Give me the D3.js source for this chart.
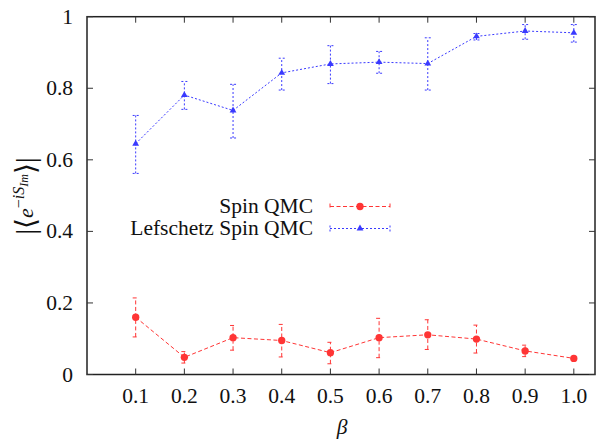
<!DOCTYPE html>
<html>
<head>
<meta charset="utf-8">
<script src="https://cdn.jsdelivr.net/npm/d3@7"></script>
<style>
  body { margin: 0; background: #fff; }
  text { font-family: "Liberation Serif", "DejaVu Serif", serif; fill: #111; }
</style>
</head>
<body>
<script>
  var betas = [0.1, 0.2, 0.3, 0.4, 0.5, 0.6, 0.7, 0.8, 0.9, 1.0];
  var xTickLabels = ["0.1", "0.2", "0.3", "0.4", "0.5", "0.6", "0.7", "0.8", "0.9", "1.0"];
  var yTicks = [0, 0.2, 0.4, 0.6, 0.8, 1];
  var yTickLabels = ["0", "0.2", "0.4", "0.6", "0.8", "1"];

  // Spin QMC
  var spinVal  = [0.160, 0.048, 0.103, 0.095, 0.061, 0.103, 0.111, 0.099, 0.066, 0.045];
  var spinLow  = [0.105, 0.032, 0.068, 0.049, 0.030, 0.047, 0.070, 0.060, 0.050, 0.043];
  var spinHigh = [0.214, 0.064, 0.137, 0.140, 0.090, 0.157, 0.153, 0.138, 0.082, 0.047];

  // Lefschetz Spin QMC
  var lefVal  = [0.645, 0.781, 0.738, 0.843, 0.868, 0.873, 0.869, 0.945, 0.960, 0.955];
  var lefLow  = [0.562, 0.741, 0.661, 0.795, 0.813, 0.842, 0.795, 0.935, 0.937, 0.929];
  var lefHigh = [0.724, 0.819, 0.811, 0.884, 0.919, 0.903, 0.941, 0.953, 0.978, 0.978];

  var width = 596, height = 443;
  var padLeft = 87, padRight = 595, padTop = 16.7, padBottom = 374.5;
  var fontSize = "21.5px";

  var svg = d3.select("body").append("svg")
    .attr("width", width)
    .attr("height", height);

  var xScale = d3.scaleLinear().domain([0, 1.0435]).range([padLeft, padRight]);
  var yScale = d3.scaleLinear().domain([0, 1]).range([padBottom, padTop]);

  // frame
  svg.append("rect")
    .attr("x", padLeft).attr("y", padTop)
    .attr("width", padRight - padLeft).attr("height", padBottom - padTop)
    .attr("fill", "none").attr("stroke", "#222").attr("stroke-width", 1.5);

  // x ticks (bottom and top, inward)
  betas.forEach(function(b, i) {
    var x = xScale(b);
    svg.append("line").attr("x1", x).attr("x2", x).attr("y1", padBottom).attr("y2", padBottom - 6)
      .attr("stroke", "#333");
    svg.append("line").attr("x1", x).attr("x2", x).attr("y1", padTop).attr("y2", padTop + 6)
      .attr("stroke", "#333");
    svg.append("text")
      .attr("x", x).attr("y", 403)
      .attr("text-anchor", "middle")
      .style("font-size", fontSize)
      .text(xTickLabels[i]);
  });

  // y ticks (left and right, inward)
  yTicks.forEach(function(t, i) {
    var y = yScale(t);
    svg.append("line").attr("x1", padLeft).attr("x2", padLeft + 6).attr("y1", y).attr("y2", y)
      .attr("stroke", "#333");
    svg.append("line").attr("x1", padRight).attr("x2", padRight - 6).attr("y1", y).attr("y2", y)
      .attr("stroke", "#333");
    svg.append("text")
      .attr("x", 73).attr("y", y + 7)
      .attr("text-anchor", "end")
      .style("font-size", fontSize)
      .text(yTickLabels[i]);
  });

  // axis titles
  svg.append("text")
    .attr("x", 342).attr("y", 434)
    .attr("text-anchor", "middle")
    .style("font-size", fontSize)
    .style("font-style", "italic")
    .text("β");

  // |<e^{-iS_Im}>| rotated
  var ylab = svg.append("text")
    .attr("transform", "translate(33,196) rotate(-90)")
    .attr("text-anchor", "middle")
    .style("font-size", "22px");
  ylab.append("tspan").style("font-size", "28px").attr("dy", 2).text("|");
  ylab.append("tspan").style("font-size", "28px").text("⟨");
  ylab.append("tspan").attr("dy", -2).style("font-style", "italic").text("e");
  ylab.append("tspan").attr("dy", -9).style("font-size", "16px").text("−");
  ylab.append("tspan").style("font-size", "16px").style("font-style", "italic").text("iS");
  ylab.append("tspan").attr("dy", 4).style("font-size", "12px").style("font-style", "italic").text("Im");
  ylab.append("tspan").attr("dy", 7).style("font-size", "28px").text("⟩");
  ylab.append("tspan").style("font-size", "28px").text("|");

  function drawSeries(vals, lows, highs, color, dash, marker) {
    var g = svg.append("g");
    var line = d3.line()
      .x(function(d, i) { return xScale(betas[i]); })
      .y(function(d) { return yScale(d); });

    g.append("path")
      .datum(vals)
      .attr("d", line)
      .attr("fill", "none")
      .attr("stroke", color)
      .attr("stroke-width", 1)
      .attr("stroke-dasharray", dash);

    betas.forEach(function(b, i) {
      var x = xScale(b);
      var y1 = yScale(lows[i]), y2 = yScale(highs[i]);
      g.append("line").attr("x1", x).attr("x2", x).attr("y1", y1).attr("y2", y2)
        .attr("stroke", color).attr("stroke-dasharray", dash);
      [y1, y2].forEach(function(yy) {
        g.append("line").attr("x1", x - 3).attr("x2", x + 3).attr("y1", yy).attr("y2", yy)
          .attr("stroke", color).attr("stroke-dasharray", dash);
      });
    });

    g.selectAll(".pt")
      .data(vals)
      .enter()
      .append("path")
      .attr("class", "pt")
      .attr("d", marker)
      .attr("transform", function(d, i) {
        return "translate(" + xScale(betas[i]) + "," + yScale(d) + ")";
      })
      .attr("fill", color);
  }

  var circleSym = d3.symbol().type(d3.symbolCircle).size(42);
  var triSym = d3.symbol().type(d3.symbolTriangle).size(20);

  drawSeries(spinVal, spinLow, spinHigh, "#ff3535", "4,2.5", circleSym);
  drawSeries(lefVal, lefLow, lefHigh, "#3a3aff", "2,2", triSym);

  // legend
  function legendRow(y, label, color, dash, marker) {
    svg.append("text")
      .attr("x", 313).attr("y", y + 6)
      .attr("text-anchor", "end")
      .style("font-size", fontSize)
      .text(label);
    svg.append("line").attr("x1", 330).attr("x2", 390).attr("y1", y).attr("y2", y)
      .attr("stroke", color).attr("stroke-dasharray", dash);
    [330, 390].forEach(function(xx) {
      svg.append("line").attr("x1", xx).attr("x2", xx).attr("y1", y - 3).attr("y2", y + 3)
        .attr("stroke", color).attr("stroke-dasharray", dash);
    });
    svg.append("path").attr("d", marker)
      .attr("transform", "translate(360," + y + ")")
      .attr("fill", color);
  }
  legendRow(206.5, "Spin QMC", "#ff3535", "4,2.5", circleSym);
  legendRow(228.5, "Lefschetz Spin QMC", "#3a3aff", "2,2", triSym);
</script>
</body>
</html>
